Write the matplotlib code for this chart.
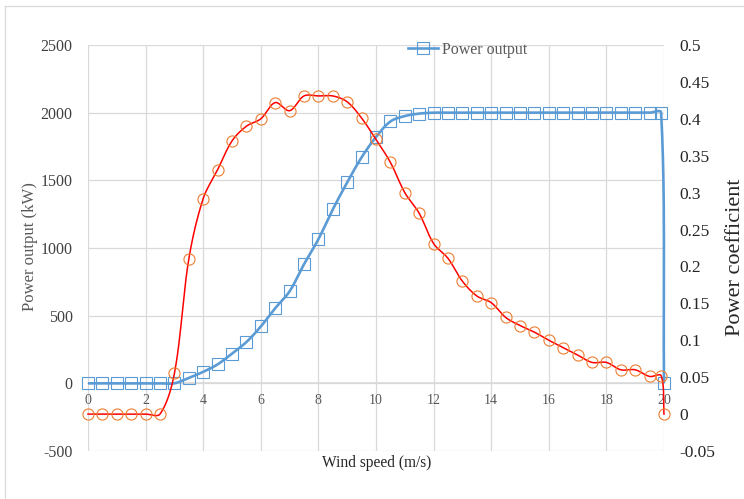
import numpy as np
import matplotlib
matplotlib.use("Agg")
import matplotlib.pyplot as plt
from matplotlib.lines import Line2D

plt.rcParams["font.family"] = ["Liberation Serif", "DejaVu Serif"]
plt.rcParams["axes.unicode_minus"] = False

# Wind speed (m/s)
wind_speed = [0, 0.5, 1, 1.5, 2, 2.5, 3, 3.5, 4, 4.5, 5, 5.5, 6, 6.5, 7, 7.5,
              8, 8.5, 9, 9.5, 10, 10.5, 11, 11.5, 12, 12.5, 13, 13.5, 14, 14.5,
              15, 15.5, 16, 16.5, 17, 17.5, 18, 18.5, 19, 19.5, 19.9, 20]

# Power output (kW)
power_kw = [0, 0, 0, 0, 0, 0, 0, 40, 85, 140, 220, 305, 420, 555, 680, 880,
            1065, 1285, 1485, 1670, 1820, 1935, 1975, 1993, 2000, 2000, 2000,
            2000, 2000, 2000, 2000, 2000, 2000, 2000, 2000, 2000, 2000, 2000,
            2000, 2000, 2000, 0]

# Power coefficient
power_coef = [0, 0, 0, 0, 0, 0, 0.055, 0.21, 0.292, 0.331, 0.37, 0.39, 0.40,
              0.422, 0.411, 0.431, 0.431, 0.431, 0.423, 0.401, 0.372, 0.341,
              0.30, 0.272, 0.231, 0.211, 0.18, 0.16, 0.151, 0.131, 0.12, 0.111,
              0.10, 0.09, 0.08, 0.07, 0.07, 0.06, 0.06, 0.051, 0.052, 0]

left_ticks = [-500, 0, 500, 1000, 1500, 2000, 2500]
right_ticks = [-0.05, 0, 0.05, 0.1, 0.15, 0.2, 0.25, 0.3, 0.35, 0.4, 0.45, 0.5]
right_labels = ["-0.05", "0", "0.05", "0.1", "0.15", "0.2", "0.25",
                "0.3", "0.35", "0.4", "0.45", "0.5"]
x_ticks = [0, 2, 4, 6, 8, 10, 12, 14, 16, 18, 20]

BLUE = "#5B9BD5"
RED = "#FF0000"
ORANGE = "#ED7D31"
GRID = "#D9D9D9"

W, H = 744, 499
fig = plt.figure(figsize=(W / 100, H / 100), dpi=100)

# chart-area border
fig.add_artist(Line2D([5 / W, 5 / W], [0, 1 - 6 / H], color=GRID, lw=0.9,
                      transform=fig.transFigure))
fig.add_artist(Line2D([5 / W, 1], [1 - 6 / H, 1 - 6 / H], color=GRID, lw=0.9,
                      transform=fig.transFigure))

ax = fig.add_axes([88 / W, 1 - 451 / H, (664 - 88) / W, (451 - 45) / H])
ax2 = ax.twinx()

ax.set_xlim(0, 20)
ax.set_ylim(-500, 2500)
ax2.set_ylim(-0.05, 0.5)


def smooth(xs, ys, axis, n=24):
    """Smoothed polyline through the points, built from cubic Bezier
    segments in display space with chord-weighted tangents."""
    pts = axis.transData.transform(np.column_stack([xs, ys]))
    m = len(pts)
    out = [pts[0]]
    t = np.linspace(0, 1, n)[1:, None]
    for i in range(m - 1):
        p0 = pts[i - 1] if i > 0 else pts[i]
        p1 = pts[i]
        p2 = pts[i + 1]
        p3 = pts[i + 2] if i + 2 < m else pts[i + 1]
        d0 = np.hypot(*(p1 - p0))
        d1 = np.hypot(*(p2 - p1))
        d2 = np.hypot(*(p3 - p2))
        f1 = d1 / (d0 + d1) / 3 if d0 + d1 > 0 else 0
        f2 = d1 / (d1 + d2) / 3 if d1 + d2 > 0 else 0
        c1 = p1 + (p2 - p0) * f1
        c2 = p2 - (p3 - p1) * f2
        seg = ((1 - t) ** 3 * p1 + 3 * (1 - t) ** 2 * t * c1
               + 3 * (1 - t) * t ** 2 * c2 + t ** 3 * p2)
        out.extend(seg)
    out = np.array(out)
    data = axis.transData.inverted().transform(out)
    return data[:, 0], data[:, 1]


# power output curve (left axis)
sx, sy = smooth(wind_speed, power_kw, ax)
ax.plot(sx, sy, color=BLUE, lw=1.9, clip_on=False, zorder=3,
        solid_capstyle="butt")
ax.plot(wind_speed, power_kw, ls="none", marker="s", ms=8.2,
        mfc="none", mec=BLUE, mew=0.8, clip_on=False, zorder=4)

# power coefficient curve (right axis)
cx, cy = smooth(wind_speed, power_coef, ax2)
ax2.plot(cx, cy, color=RED, lw=1.1, clip_on=False, zorder=3)
ax2.plot(wind_speed, power_coef, ls="none", marker="o", ms=8.0,
         mfc="none", mec=ORANGE, mew=0.8, clip_on=False, zorder=4)

# grid and axes styling
ax.set_xticks(x_ticks)
ax.set_yticks(left_ticks)
ax2.set_yticks(right_ticks)
ax2.set_yticklabels(right_labels)
ax.grid(True, color=GRID, lw=0.9)
ax.set_axisbelow(True)

for a in (ax, ax2):
    for s in ("top", "left", "right", "bottom"):
        a.spines[s].set_visible(False)

ax.spines["bottom"].set_visible(True)
ax.spines["bottom"].set_position(("data", 0))
ax.spines["bottom"].set_color(GRID)
ax.spines["bottom"].set_linewidth(1.2)

ax.tick_params(axis="x", length=0, pad=8, labelsize=10, labelcolor="#595959")
ax.tick_params(axis="y", length=0, pad=11, labelsize=11.5,
               labelcolor="#404040")
ax2.tick_params(axis="y", length=0, pad=11, labelsize=12.5,
                labelcolor="#262626")

fig.text(30 / W, 1 - 247 / H, "Power output (kW)", rotation=90,
         ha="center", va="center", fontsize=12, color="#595959")
fig.text(736 / W, 1 - 257 / H, "Power coefficient", rotation=90,
         ha="center", va="center", fontsize=16, color="#262626")
fig.text(377 / W, 1 - 463 / H, "Wind speed (m/s)",
         ha="center", va="center", fontsize=11.2, color="#262626")

handle = Line2D([], [], color=BLUE, lw=1.9, marker="s", ms=8.2,
                mfc="none", mec=BLUE, mew=0.8)
fig.legend([handle], ["Power output"], loc="center left",
           bbox_to_anchor=(408 / W, 1 - 50 / H), frameon=False,
           borderpad=0, borderaxespad=0, handlelength=1.9,
           handletextpad=0.25, fontsize=11.5, labelcolor="#595959")

fig.savefig("out.png", dpi=100)
